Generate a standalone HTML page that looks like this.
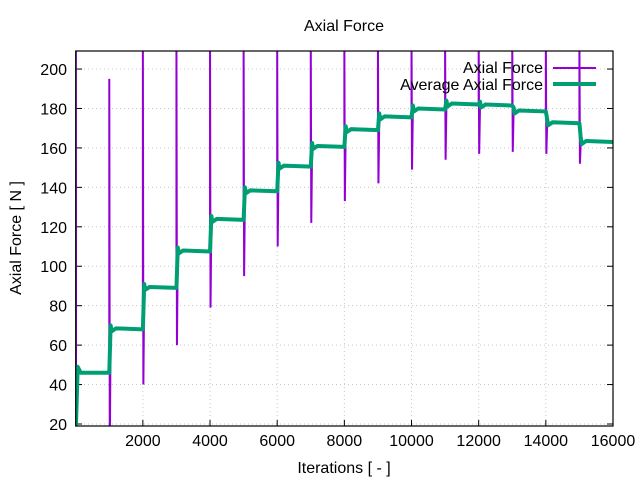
<!DOCTYPE html>
<html><head><meta charset="utf-8"><style>
body{margin:0;background:#fff}
svg text{font-family:"Liberation Sans",Arial,sans-serif;font-size:16px;fill:#000}
</style></head><body>
<svg id="s" width="640" height="480" xmlns="http://www.w3.org/2000/svg">
<defs><clipPath id="c"><rect x="76" y="51" width="537" height="375"/></clipPath></defs>
<g id="grid" stroke="#c8c8c8" stroke-dasharray="1,3" stroke-width="1"></g>
<g id="ticks" stroke="#000" stroke-width="1"></g>
<g id="labels"></g>
<g clip-path="url(#c)">
<path id="pf" fill="none" stroke="#9400d3" stroke-width="2"/>
<path id="av" fill="none" stroke="#009e73" stroke-width="4" stroke-linejoin="round"/>
</g>
<rect x="75.7" y="51" width="537.3" height="375" fill="none" stroke="#000" stroke-width="1.2"/>
<text x="344" y="31" text-anchor="middle">Axial Force</text>
<text x="344" y="473" text-anchor="middle">Iterations [ - ]</text>
<text transform="translate(21,238) rotate(-90)" text-anchor="middle">Axial Force [ N ]</text>
<text x="543" y="73" text-anchor="end">Axial Force</text>
<line x1="553" y1="68" x2="596" y2="68" stroke="#9400d3" stroke-width="2"/>
<text x="543" y="90" text-anchor="end">Average Axial Force</text>
<line x1="553" y1="84" x2="596" y2="84" stroke="#009e73" stroke-width="4"/>
</svg>
<script>
const X=v=>75.7+v*537.3/16000, Y=v=>424-(v-20)*1.972;
const ns="http://www.w3.org/2000/svg";
function el(p,t,a,txt){const e=document.createElementNS(ns,t);for(const k in a)e.setAttribute(k,a[k]);if(txt!==undefined)e.textContent=txt;document.getElementById(p).appendChild(e);}
for(let v=20;v<=200;v+=20){const y=Y(v);el("grid","line",{x1:76,x2:613,y1:y,y2:y});el("ticks","line",{x1:76,x2:82,y1:y,y2:y});el("ticks","line",{x1:607,x2:613,y1:y,y2:y});el("labels","text",{x:67,y:y+6,"text-anchor":"end"},v);}
for(let v=2000;v<=16000;v+=2000){const x=X(v);el("grid","line",{x1:x,x2:x,y1:51,y2:426});el("ticks","line",{x1:x,x2:x,y1:426,y2:420});el("ticks","line",{x1:x,x2:x,y1:51,y2:57});el("labels","text",{x:x,y:446,"text-anchor":"middle"},v);}
const lv=[46,68,89,107.5,123.5,138,150.5,160.5,169,175.5,179.5,182,181.5,178.5,172.5,163];
let d=`M${X(0)},${Y(15)} L${X(60)},${Y(49)} L${X(150)},${Y(46)}`;
for(let i=0;i<16;i++){const a=i*1000,b=(i+1)*1000;
 if(i>0){d+=` L${X(a)},${Y(lv[i-1])} L${X(a+40)},${Y(lv[i]+2)} L${X(a+70)},${Y(lv[i]-1)} L${X(a+200)},${Y(lv[i]+0.5)}`;}
 d+=` L${X(b)},${Y(lv[i])}`;}
document.getElementById("av").setAttribute("d",d);
const lows=[5,40,60,79,95,110,122,133,142,149,154,157,158,157,152];
let p=`M${X(5)},${Y(15)} L${X(5)},${Y(215)} L${X(10)},${Y(50)} L${X(40)},${Y(46)} L${X(1000)},${Y(46)}`;
for(let i=1;i<16;i++){const a=i*1000;const hi=i==1?195:215;
 p+=` L${X(a)},${Y(hi)} L${X(a+15)},${Y(lows[i-1])} L${X(a+40)},${Y(lv[i])} L${X(a+1000>16000?16000:a+1000)},${Y(lv[i])}`;}
document.getElementById("pf").setAttribute("d",p);
</script>
</body></html>
